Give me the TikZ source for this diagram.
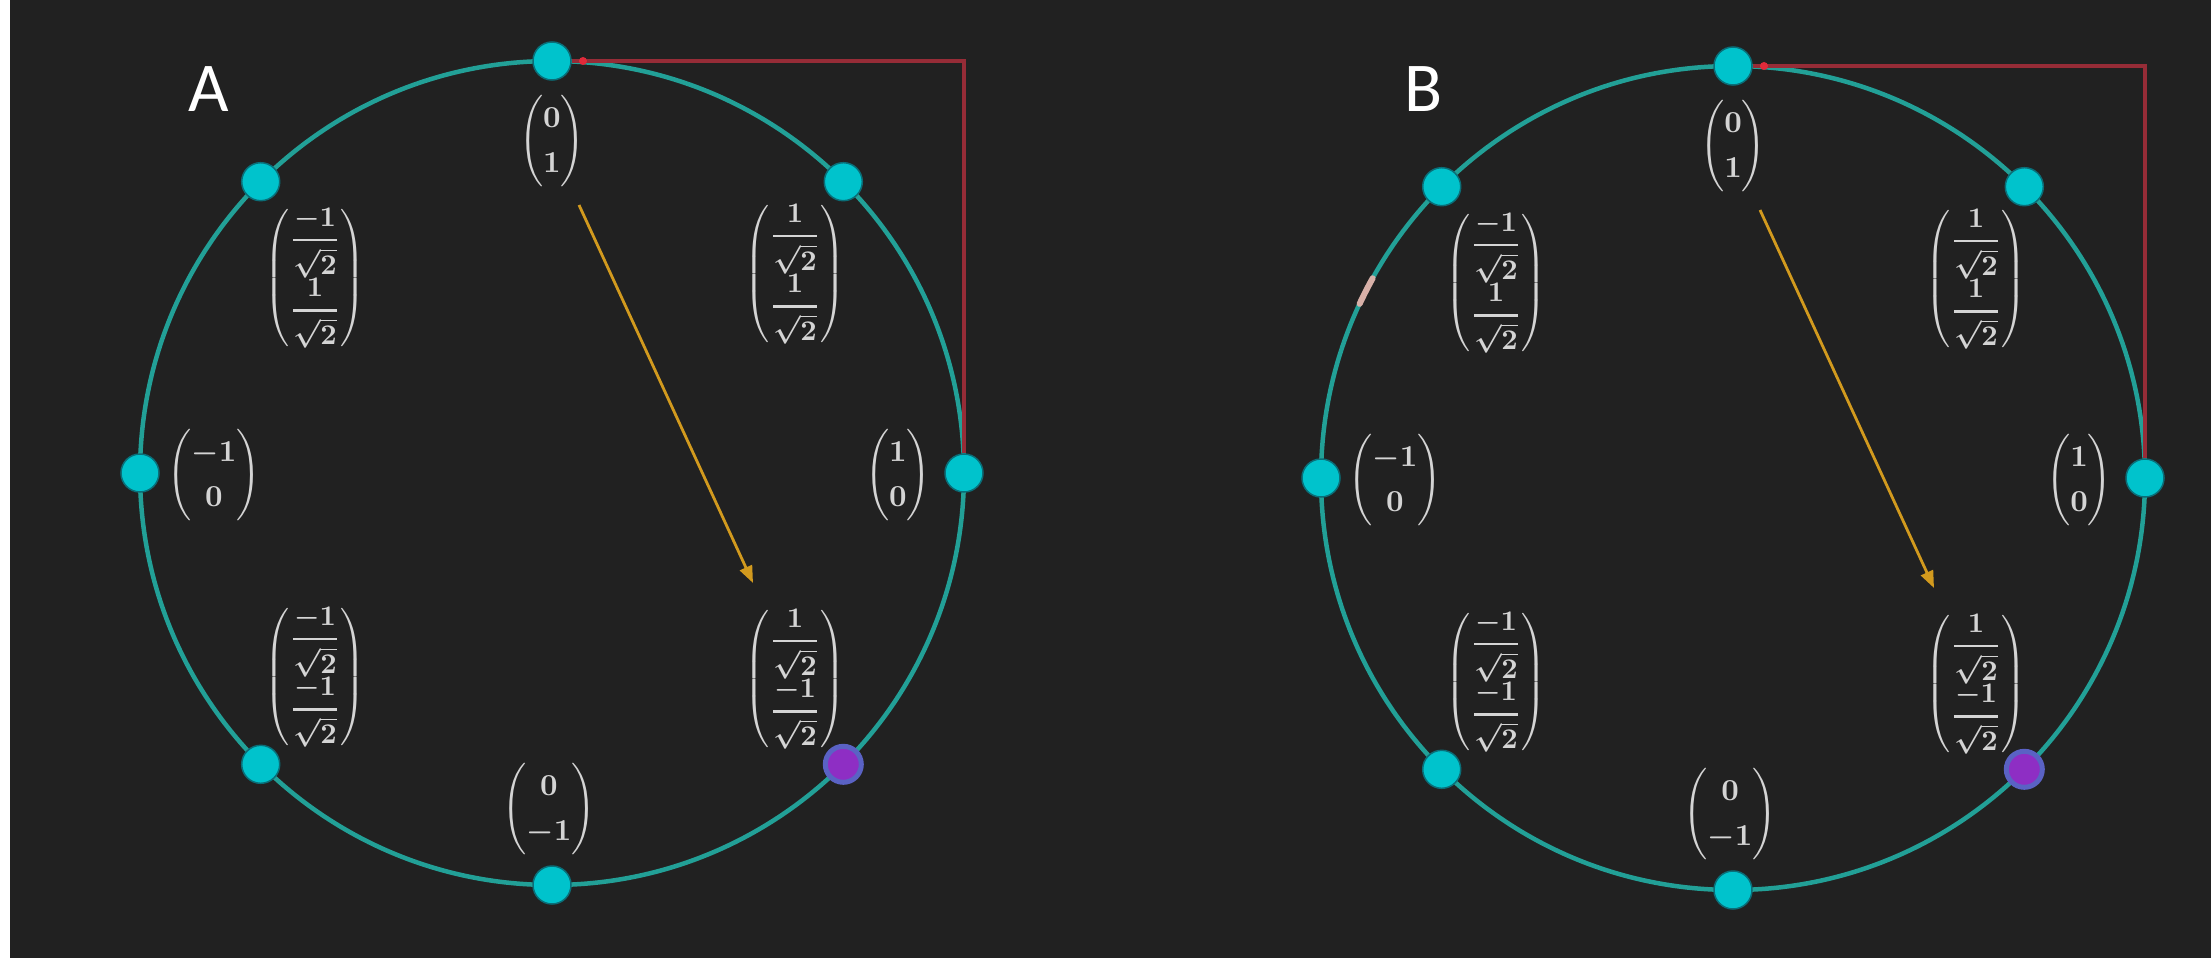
\documentclass[tikz,border=0pt]{standalone}
\usepackage{amsmath}
\usepackage{graphicx}
\usepackage{fontspec}
\newfontfamily\labfont{Carlito}
\usetikzlibrary{arrows.meta}
\definecolor{bg}{HTML}{212121}
\definecolor{ring}{HTML}{22A097}
\definecolor{dotc}{HTML}{00C3CC}
\definecolor{dotedge}{HTML}{0A6E78}
\definecolor{redl}{HTML}{962C37}
\definecolor{redtipc}{HTML}{E02A3A}
\definecolor{orl}{HTML}{D29A1E}
\definecolor{purp}{HTML}{8E2EC4}
\definecolor{purpring}{HTML}{5A62C4}
\definecolor{txt}{HTML}{D4D4D4}
\definecolor{glint}{HTML}{D8B0A8}
\tikzset{
 ringline/.style={draw=ring, line width=4.5pt},
 dotnode/.style={circle, fill=dotc, draw=dotedge, line width=1.5pt, minimum size=38pt, inner sep=0pt},
 purpnode/.style={circle, fill=purp, draw=purpring, line width=5pt, minimum size=36pt, inner sep=0pt},
 vec/.style={text=txt, font=\boldmath, inner sep=0pt},
 redline/.style={draw=redl, line width=4pt},
 redtip/.style={circle, fill=redtipc, minimum size=8pt, inner sep=0pt},
 arrowline/.style={draw=orl, line width=2.8pt, -{Triangle[length=17pt,width=13pt]}},
 panellabel/.style={text=white, font=\labfont\fontsize{70}{84}\selectfont, inner sep=0pt},
}
\newcommand\myfr[1]{\genfrac{}{}{0.75pt}{0}{\mathbf{#1}}{\sqrt{\mathbf{2}}}}
\newcommand\mysv[1]{\scalebox{3.05}{\renewcommand\arraystretch{1.22}$#1$}}
\newcommand\mysf[1]{\scalebox{2.85}{$#1$}}
\newcommand\myvecTop{\mysv{\begin{pmatrix}\mathbf{0}\\\mathbf{1}\end{pmatrix}}}
\newcommand\myvecBot{\mysv{\begin{pmatrix}\mathbf{0}\\\mathbf{-1}\end{pmatrix}}}
\newcommand\myvecLft{\mysv{\begin{pmatrix}\mathbf{-1}\\\mathbf{0}\end{pmatrix}}}
\newcommand\myvecRgt{\mysv{\begin{pmatrix}\mathbf{1}\\\mathbf{0}\end{pmatrix}}}
\newcommand\myvecTR{\mysf{\begin{pmatrix}\myfr{1}\\[3pt]\myfr{1}\end{pmatrix}}}
\newcommand\myvecTL{\mysf{\begin{pmatrix}\myfr{-1}\\[3pt]\myfr{1}\end{pmatrix}}}
\newcommand\myvecBL{\mysf{\begin{pmatrix}\myfr{-1}\\[3pt]\myfr{-1}\end{pmatrix}}}
\newcommand\myvecBR{\mysf{\begin{pmatrix}\myfr{1}\\[3pt]\myfr{-1}\end{pmatrix}}}
% #1 cx, #2 cy, #3 name, #4 letter x, #5 letter y
\newcommand\drawpanel[5]{%
 \coordinate (c#3) at (#1,#2);
 \draw[ringline] (c#3) circle[radius=412];
 \node[dotnode] (t#3) at (#1,#2-412) {};
 \node[dotnode] (r#3) at (#1+412,#2) {};
 \draw[redline] (t#3.east) -| (r#3.north);
 \node[redtip] (rt#3) at (#1+31,#2-412) {};
 \node[dotnode] (b#3) at (#1,#2+412) {};
 \node[dotnode] (l#3) at (#1-412,#2) {};
 \node[dotnode] (tl#3) at (#1-291.3,#2-291.3) {};
 \node[dotnode] (tr#3) at (#1+291.3,#2-291.3) {};
 \node[dotnode] (bl#3) at (#1-291.3,#2+291.3) {};
 \node[purpnode] (br#3) at (#1+291.3,#2+291.3) {};
 \coordinate (as#3) at (#1+27,#2-268);
 \coordinate (ae#3) at (#1+201,#2+110);
 \draw[arrowline] (as#3) -- (ae#3);
 \node[vec] (lt#3) at (#1,#2-332) {\myvecTop};
 \node[vec] (lb#3) at (#1-3,#2+336) {\myvecBot};
 \node[vec] (ll#3) at (#1-338,#2+2) {\myvecLft};
 \node[vec] (lr#3) at (#1+346,#2+2) {\myvecRgt};
 \node[vec] (ltr#3) at (#1+243,#2-199) {\myvecTR};
 \node[vec] (ltl#3) at (#1-237,#2-195) {\myvecTL};
 \node[vec] (lbl#3) at (#1-237,#2+204) {\myvecBL};
 \node[vec] (lbr#3) at (#1+243,#2+206) {\myvecBR};
 \node[panellabel] (P#3) at (#4,#5) {#3};
}
\begin{document}
\begin{tikzpicture}[x=1pt,y=-1pt]
\useasboundingbox (0,0) rectangle (2211,958);
\fill[bg] (0,0) rectangle (2211,958);
\fill[white] (0,0) rectangle (10,958);
\drawpanel{552}{473}{A}{209}{89}
\drawpanel{1733}{478}{B}{1424}{89}
\draw[glint, line width=6pt, line cap=round] (cB) ++(-151:412) arc[start angle=-151, end angle=-155, radius=412];
\end{tikzpicture}
\end{document}
